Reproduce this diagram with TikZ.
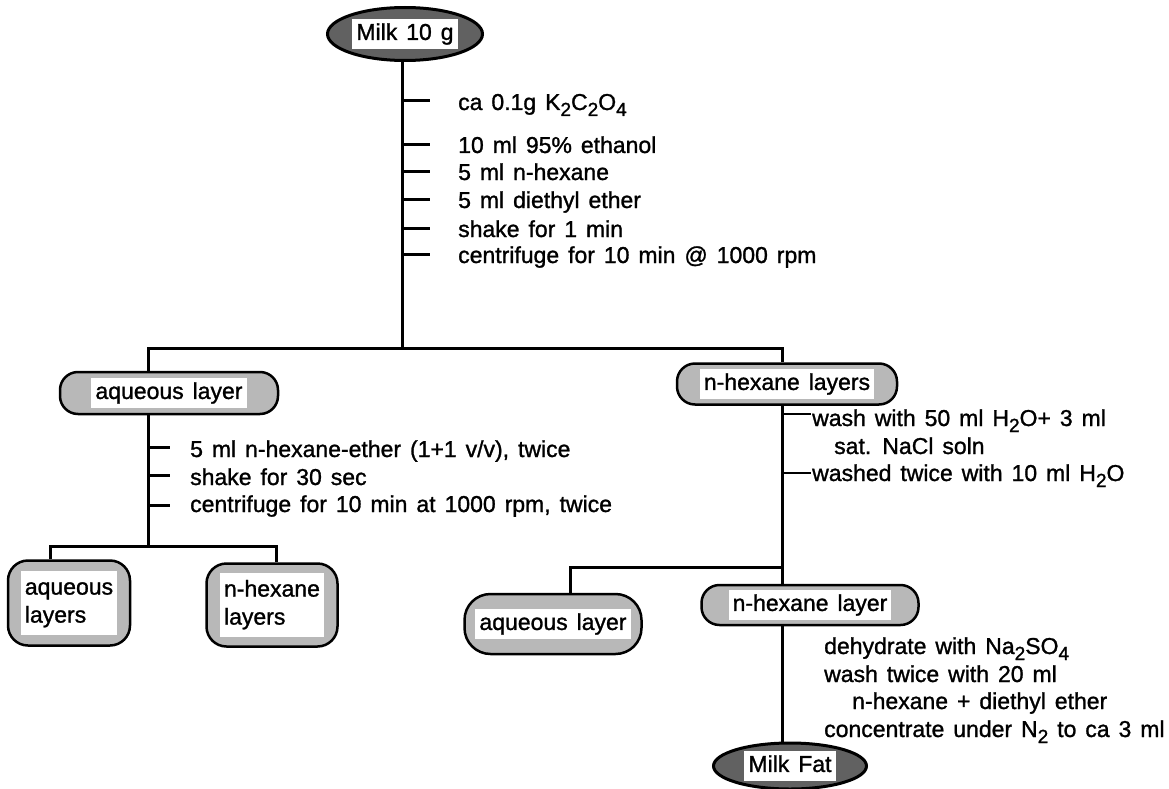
\documentclass[tikz,border=0pt]{standalone}
\usepackage{fontspec}
\setmainfont[WordSpace=1.4, FakeBold=1.2]{Liberation Sans}
\usetikzlibrary{shapes.geometric,backgrounds}
\newcommand{\stepfont}{\fontsize{23}{28}\selectfont}
\newcommand{\wb}[1]{\colorbox{white}{\vphantom{Ag}#1}}
\newcommand{\lowr}[1]{\raisebox{-6pt}{\fontsize{19}{19}\selectfont #1}}
\setlength{\fboxsep}{4pt}

\begin{document}
\begin{tikzpicture}[x=1pt, y=-1pt,
  link/.style={line width=3pt},
  stub/.style={line width=3pt},
  note/.style={anchor=base west, inner sep=0pt, font=\stepfont},
  pillbox/.style={draw, line width=2.5pt, rounded corners=18pt, fill=black!28,
                  inner sep=0pt, minimum height=42pt, font=\stepfont},
  terminal/.style={ellipse, draw, line width=3pt, fill=black!62, inner sep=0pt,
                   font=\stepfont}
]
  \useasboundingbox (0,0) rectangle (1169,789);

  \coordinate (j1) at (402,348);
  \coordinate (j1l) at (148,348);
  \coordinate (j1r) at (782,348);
  \coordinate (j2) at (148,546);
  \coordinate (j2l) at (50,546);
  \coordinate (j2r) at (276,546);
  \coordinate (j3) at (782,567);
  \coordinate (j3l) at (570,567);

  % start
  \node[terminal, minimum width=155pt, minimum height=53pt] (milk) at (405,34) {\wb{Milk 10 g}};

  \node[note] (oxalate) at (458,110) {ca 0.1g K\lowr{2}C\lowr{2}O\lowr{4}};
  \node[note] (ethanol) at (458,153) {10 ml 95\% ethanol};
  \node[note] (hexane) at (458,180) {5 ml n-hexane};
  \node[note] (ether) at (458,208) {5 ml diethyl ether};
  \node[note] (shake) at (458,237) {shake for 1 min};
  \node[note] (spin) at (458,263) {centrifuge for 10 min @ 1000 rpm};

  % first split
  \node[pillbox, minimum width=218pt] (aq) at (169,393) {\wb{aqueous layer}};
  \node[pillbox, minimum width=220pt, minimum height=41pt] (hx) at (787,384) {\wb{n-hexane layers}};

  \node[note] (extract) at (190,457) {5 ml n-hexane-ether (1+1 v/v), twice};
  \node[note] (shaketwo) at (190,485) {shake for 30 sec};
  \node[note] (spintwo) at (190,512) {centrifuge for 10 min at 1000 rpm, twice};

  \node[pillbox, rounded corners=20pt, minimum width=122pt, minimum height=85pt] (aqs) at (69,603)
    {\wb{\begin{tabular}{@{}l@{}}aqueous\\layers\end{tabular}}};
  \node[pillbox, rounded corners=20pt, minimum width=131pt, minimum height=83pt] (hxs) at (272,605)
    {\wb{\begin{tabular}{@{}l@{}}n-hexane\\layers\end{tabular}}};

  \node[note] (wash) at (812,426) {wash with 50 ml H\lowr{2}O+ 3 ml};
  \node[note] (nacl) at (834,454) {sat. NaCl soln};
  \node[note] (rinse) at (812,481) {washed twice with 10 ml H\lowr{2}O};

  % second split
  \node[pillbox, rounded corners=26pt, minimum width=177pt, minimum height=60pt] (aqtwo) at (553,624) {\wb{aqueous layer}};
  \node[pillbox, minimum width=217pt, minimum height=40pt] (hxtwo) at (810,605) {\wb{n-hexane layer}};

  \node[note] (dry) at (824,654) {dehydrate with Na\lowr{2}SO\lowr{4}};
  \node[note] (washtwo) at (824,682) {wash twice with 20 ml};
  \node[note] (solvent) at (852,709) {n-hexane + diethyl ether};
  \node[note] (conc) at (824,737) {concentrate under N\lowr{2} to ca 3 ml};

  \node[terminal, minimum width=153pt, minimum height=46pt] (fat) at (790,766) {\wb{Milk Fat}};

  % ticks
  \draw[stub] (oxalate.base west -| j1) ++(0,-9) -- ++(28,0);
  \draw[stub] (ethanol.base west -| j1) ++(0,-9) -- ++(28,0);
  \draw[stub] (hexane.base west -| j1) ++(0,-9) -- ++(28,0);
  \draw[stub] (ether.base west -| j1) ++(0,-9) -- ++(28,0);
  \draw[stub] (shake.base west -| j1) ++(0,-9) -- ++(28,0);
  \draw[stub] (spin.base west -| j1) ++(0,-9) -- ++(28,0);
  \draw[stub] (extract.base west -| j2) ++(0,-10) -- ++(22,0);
  \draw[stub] (shaketwo.base west -| j2) ++(0,-10) -- ++(22,0);
  \draw[stub] (spintwo.base west -| j2) ++(0,-7) -- ++(22,0);
  \draw[stub, line width=2pt] (wash.base west -| j1r) ++(0,-12) -- ++(29,0);
  \draw[stub, line width=2pt] (rinse.base west -| j1r) ++(0,-8) -- ++(29,0);

  \begin{scope}[on background layer]
    \draw[link] (j1 |- milk.south) -- (j1);
    \draw[link] (j1l |- aq.north) -- (j1l) -- (j1r) -- (j1r |- hx.north);
    \draw[link] (j1l |- aq.south) -- (j2);
    \draw[link] (j2l |- aqs.north) -- (j2l) -- (j2r) -- (j2r |- hxs.north);
    \draw[link] (j1r |- hx.south) -- (j1r |- fat.north);
    \draw[link] (j3) -- (j3l) -- (j3l |- aqtwo.north);
  \end{scope}
\end{tikzpicture}
\end{document}
